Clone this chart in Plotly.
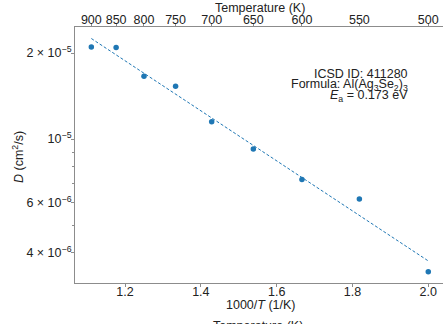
import numpy as np
import plotly.graph_objects as go

# Data
temperatures = [900, 850, 800, 750, 700, 650, 600, 550, 500]
diffusivity = [2.10e-5, 2.09e-5, 1.66e-5, 1.53e-5, 1.15e-5, 9.23e-6, 7.23e-6, 6.17e-6, 3.44e-6]
top_tick_temps = [900, 850, 800, 750, 700, 650, 600, 550, 500]
x_tick_vals = [1.2, 1.4, 1.6, 1.8, 2.0]
y_tick_vals = [2e-5, 1e-5, 6e-6, 4e-6]
y_tick_text = ["2 × 10<sup>−5</sup>", "10<sup>−5</sup>", "6 × 10<sup>−6</sup>", "4 × 10<sup>−6</sup>"]
y_minor_vals = [3e-6, 5e-6, 7e-6, 8e-6, 9e-6]
info_lines = ["ICSD ID: 411280", "Formula: Al(Ag<sub>3</sub>Se<sub>2</sub>)<sub>3</sub>",
              "<i>E</i><sub>a</sub> = 0.173 eV"]

inv_t = [1000.0 / t for t in temperatures]
coef = np.polyfit(inv_t, np.log10(diffusivity), 1)
fit_x = [min(inv_t), max(inv_t)]
fit_y = [10 ** (coef[0] * v + coef[1]) for v in fit_x]

W, H = 443, 324
L, R, T, B = 75, 0, 27, 41
pw, ph = W - L - R, H - T - B

def px(x):  # window pixel -> paper
    return (x - L) / pw

def py(y):  # window pixel -> paper
    return (H - B - y) / ph

x_range = [1.068, 2.0388]
y_range = [np.log10(3.14e-6), np.log10(2.466e-5)]

FONT = "Liberation Sans, Arial, sans-serif"
blue = "#1f77b4"
axis_gray = "#8c8c8c"

fig = go.Figure()
fig.add_trace(go.Scatter(x=fit_x, y=fit_y, mode="lines",
                         line=dict(color=blue, width=1, dash="3px,2px"),
                         showlegend=False, hoverinfo="skip"))
fig.add_trace(go.Scatter(x=inv_t, y=diffusivity, mode="markers",
                         marker=dict(color=blue, size=5.5),
                         showlegend=False))
# invisible trace to enable the top axis
fig.add_trace(go.Scatter(x=inv_t, y=diffusivity, xaxis="x2", mode="markers",
                         marker=dict(opacity=0), showlegend=False, hoverinfo="skip"))

common = dict(showgrid=False, zeroline=False, showline=True, linecolor=axis_gray, linewidth=1,
              ticks="outside", ticklen=3, tickcolor=axis_gray, tickfont=dict(size=12.5, color="#222"),
              automargin=False)

fig.update_layout(
    template="none",
    width=W, height=H,
    margin=dict(l=L, r=R, t=T, b=B, pad=0),
    paper_bgcolor="white", plot_bgcolor="white",
    font=dict(family=FONT, size=12.5, color="#222"),
    xaxis=dict(range=x_range, tickvals=x_tick_vals, ticktext=[f"{v:.1f}" for v in x_tick_vals],
               ticklabelstandoff=-6, **common),
    xaxis2=dict(range=x_range, overlaying="x", side="top",
                tickvals=[1000.0 / t for t in top_tick_temps],
                ticktext=[str(t) for t in top_tick_temps], ticklabelstandoff=-6, **common),
    yaxis=dict(type="log", range=y_range, tickvals=y_tick_vals, ticktext=y_tick_text,
               minor=dict(tickvals=y_minor_vals, ticks="outside", ticklen=2, tickcolor=axis_gray),
               ticklabelstandoff=-3, **common),
)

annots = []
annots.append(dict(text="Temperature (K)", x=px(260), y=py(7.5), xref="paper", yref="paper",
                   xanchor="center", yanchor="middle", showarrow=False, font=dict(size=12.5)))
annots.append(dict(text="1000/<i>T</i> (1/K)", x=px(260), y=py(305), xref="paper", yref="paper",
                   xanchor="center", yanchor="middle", showarrow=False, font=dict(size=12.5)))
annots.append(dict(text="Temperature (K)", x=px(258), y=py(316.5), xref="paper", yref="paper",
                   xanchor="center", yanchor="top", showarrow=False, font=dict(size=12.5)))
annots.append(dict(text="<i>D</i> (cm<sup>2</sup>/s)", x=px(18), y=py(157), xref="paper", yref="paper",
                   xanchor="center", yanchor="middle", textangle=-90, showarrow=False,
                   font=dict(size=12.5)))
for line, ytop in zip(info_lines, [64.5, 75.0, 86.0]):
    annots.append(dict(text=line, x=px(410), y=py(ytop), xref="paper", yref="paper",
                       xanchor="right", yanchor="top", align="right", showarrow=False,
                       font=dict(size=12.5)))
fig.update_layout(annotations=annots)

fig.write_html("out.html", config={"displayModeBar": False},
               post_script="document.body.style.margin='0';document.body.style.overflow='hidden';")
